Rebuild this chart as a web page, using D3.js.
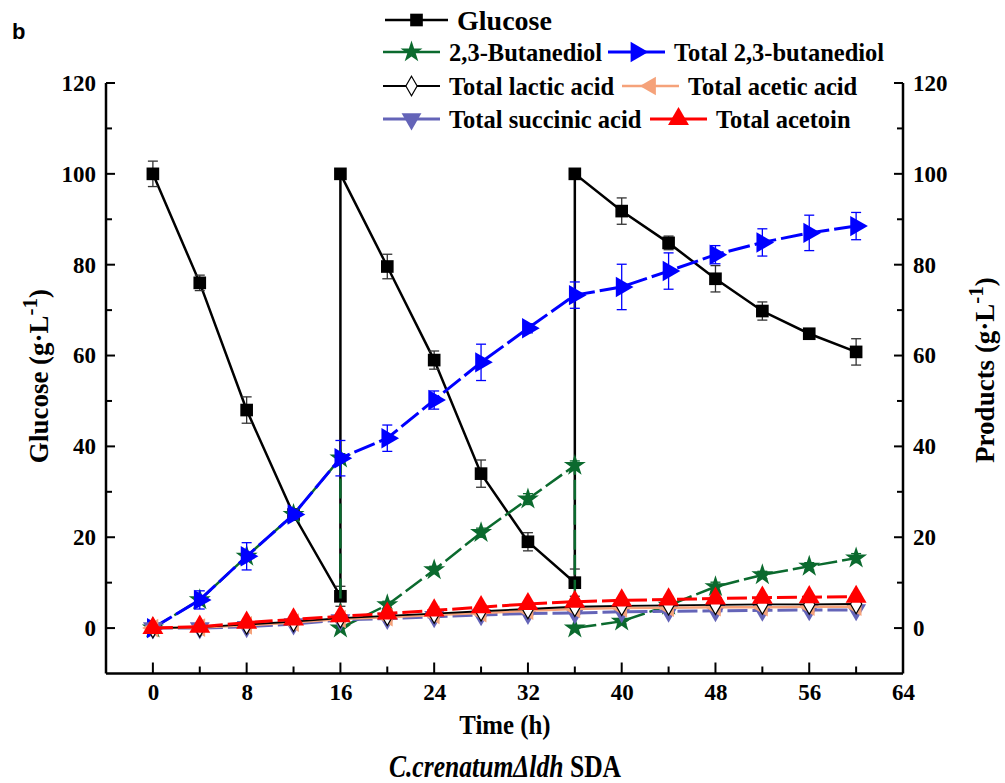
<!DOCTYPE html>
<html>
<head>
<meta charset="utf-8">
<script src="https://cdn.jsdelivr.net/npm/d3@7"></script>
<style>
  body { margin: 0; background: #fff; }
  svg { display: block; }
  text { font-family: 'Liberation Serif', 'Times New Roman', serif; font-weight: bold; }
</style>
</head>
<body>
<svg width="1005" height="783"></svg>
<script>
// time points (h)
const hours = [0, 4, 8, 12, 16, 20, 24, 28, 32, 36, 40, 44, 48, 52, 56, 60];

// glucose, fed three times (repeated time = feeding jump)
const glucoseTime = [0, 4, 8, 12, 16, 16, 20, 24, 28, 32, 36, 36, 40, 44, 48, 52, 56, 60];
const glucose = [100, 76, 48, 25, 7, 100, 79.6, 59, 34, 19, 10, 100, 91.8, 84.8, 76.9, 69.8, 64.8, 60.8];
const glucoseErr = [2.8, 1.7, 2.9, 0.8, 2.2, 0, 2.7, 2, 3, 2, 3, 0, 2.9, 1.5, 2.9, 2, 0.8, 2.9];

// 2,3-butanediol in broth (reset at each feeding)
const bdTime = [0, 4, 8, 12, 16, 16, 20, 24, 28, 32, 36, 36, 40, 44, 48, 52, 56, 60];
const bd = [0, 6.2, 15.8, 25, 37.4, 0, 5.1, 12.8, 21, 28.4, 35.8, 0, 1.5, 5, 9.1, 11.7, 13.6, 15.4];
const bdErr = [0, 0.5, 0.8, 0.5, 1, 0, 0.8, 0.8, 1, 1.2, 1, 0, 0.6, 0.6, 1, 0.8, 0.8, 1];

const totalBd = [0, 6.2, 15.8, 25, 37.4, 41.8, 50.2, 58.5, 66, 73.3, 75.1, 78.6, 82.2, 84.9, 87, 88.5];
const totalBdErr = [0, 2, 3, 1, 3.9, 2.9, 2, 4, 1, 2.9, 5, 4, 2, 3, 3.9, 3];

const lactic = [0, 0.2, 0.8, 1.4, 2.2, 2.7, 3.2, 3.7, 4.2, 4.7, 4.9, 5.0, 5.1, 5.2, 5.2, 5.3];
const acetic = [0, 0.1, 0.6, 1.2, 2.0, 2.4, 2.9, 3.3, 3.8, 4.2, 4.4, 4.5, 4.6, 4.6, 4.7, 4.7];
const succinic = [0, 0, 0.3, 0.9, 1.8, 2.1, 2.5, 2.9, 3.2, 3.3, 3.6, 3.7, 3.8, 3.9, 4.0, 4.0];
const acetoin = [0, 0.3, 1.2, 1.9, 2.6, 3.2, 3.9, 4.6, 5.3, 5.8, 6.1, 6.3, 6.5, 6.7, 6.8, 6.9];
const acetoinErr = [0, 0.3, 0.4, 0.4, 0.5, 0.4, 0.4, 0.5, 0.5, 0.6, 0.5, 0.5, 0.6, 0.5, 0.5, 0.6];

const xTicks = [0, 8, 16, 24, 32, 40, 48, 56, 64];
const yTicks = [0, 20, 40, 60, 80, 100, 120];

const svg = d3.select('svg');

const x = d3.scaleLinear().domain([-4, 64]).range([106, 903]);
const y = d3.scaleLinear().domain([-10, 120]).range([673.5, 83]);

const line = d3.line().x(d => x(d[0])).y(d => y(d[1]));

// series definitions
const series = [
  { name: 'glucose', t: glucoseTime, v: glucose, e: glucoseErr, color: '#000', width: 2.5, dash: null,
    symbol: d3.symbolSquare, size: 160, rot: 0, fill: '#000' },
  { name: 'bd', t: bdTime, v: bd, e: bdErr, color: '#0b6a2e', width: 2.5, dash: '20,5',
    symbol: d3.symbolStar, size: 150, rot: 0, fill: '#0b6a2e' },
  { name: 'totalBd', t: hours, v: totalBd, e: totalBdErr, color: '#0000ff', width: 3, dash: '22,5',
    symbol: d3.symbolTriangle, size: 180, rot: 90, fill: '#0000ff' },
  { name: 'succinic', t: hours, v: succinic, e: null, color: '#6464b8', width: 3, dash: '20,5',
    symbol: d3.symbolTriangle, size: 170, rot: 180, fill: '#6464b8' },
  { name: 'acetic', t: hours, v: acetic, e: null, color: '#f5a27a', width: 2.5, dash: null,
    symbol: d3.symbolTriangle, size: 150, rot: -90, fill: '#f5a27a' },
  { name: 'lactic', t: hours, v: lactic, e: null, color: '#000', width: 1.8, dash: null,
    symbol: d3.symbolDiamond, size: 110, rot: 0, fill: '#fff' },
  { name: 'acetoin', t: hours, v: acetoin, e: acetoinErr, color: '#ff0000', width: 3, dash: '20,5',
    symbol: d3.symbolTriangle, size: 190, rot: 0, fill: '#ff0000' }
];

const plot = svg.append('g').attr('class', 'plot');

series.forEach(s => {
  const pts = s.t.map((t, i) => [t, s.v[i], s.e ? s.e[i] : 0]);
  const g = plot.append('g').attr('class', s.name);

  g.append('path')
    .datum(pts)
    .attr('d', line)
    .attr('fill', 'none')
    .attr('stroke', s.color)
    .attr('stroke-width', s.width)
    .attr('stroke-dasharray', s.dash);

  if (s.e) {
    const eb = g.selectAll('.err')
      .data(pts.filter(d => d[2] > 0))
      .enter()
      .append('g')
      .attr('class', 'err')
      .attr('stroke', s.name === 'glucose' ? '#333' : s.color)
      .attr('stroke-width', 1.3);
    eb.append('line')
      .attr('x1', d => x(d[0])).attr('x2', d => x(d[0]))
      .attr('y1', d => y(d[1] - d[2])).attr('y2', d => y(d[1] + d[2]));
    eb.append('line')
      .attr('x1', d => x(d[0]) - 5).attr('x2', d => x(d[0]) + 5)
      .attr('y1', d => y(d[1] + d[2])).attr('y2', d => y(d[1] + d[2]));
    eb.append('line')
      .attr('x1', d => x(d[0]) - 5).attr('x2', d => x(d[0]) + 5)
      .attr('y1', d => y(d[1] - d[2])).attr('y2', d => y(d[1] - d[2]));
  }

  g.selectAll('.mark')
    .data(pts)
    .enter()
    .append('path')
    .attr('class', 'mark')
    .attr('d', d3.symbol().type(s.symbol).size(s.size))
    .attr('transform', d => `translate(${x(d[0])},${y(d[1])}) rotate(${s.rot})`)
    .attr('fill', s.fill)
    .attr('stroke', s.name === 'lactic' ? '#000' : 'none')
    .attr('stroke-width', 1.2);
});

// axes
const axisW = 2.5;
svg.append('g')
  .attr('transform', `translate(0,${y(-10)})`)
  .call(d3.axisBottom(x).tickValues(xTicks).tickSize(0).tickPadding(10).tickFormat(d3.format('d')))
  .call(g => g.select('.domain').remove())
  .call(g => g.selectAll('text').attr('font-size', 23).attr('fill', '#000'));

svg.append('line')
  .attr('x1', x(-4)).attr('x2', x(64))
  .attr('y1', y(-10)).attr('y2', y(-10))
  .attr('stroke', '#000').attr('stroke-width', axisW);

// x ticks inward
svg.append('g').selectAll('line')
  .data(d3.range(0, 64, 4))
  .enter()
  .append('line')
  .attr('x1', d => x(d)).attr('x2', d => x(d))
  .attr('y1', y(-10)).attr('y2', d => y(-10) - (d % 8 === 0 ? 11 : 7))
  .attr('stroke', '#000').attr('stroke-width', 2);

// left axis
const left = svg.append('g').attr('transform', `translate(${x(-4)},0)`);
left.call(d3.axisLeft(y).tickValues(yTicks).tickSize(0).tickPadding(10))
  .call(g => g.select('.domain').remove())
  .call(g => g.selectAll('text').attr('font-size', 23).attr('fill', '#000'));
left.append('line').attr('y1', y(-10)).attr('y2', y(120))
  .attr('stroke', '#000').attr('stroke-width', axisW);
left.selectAll('.tk')
  .data(d3.range(0, 121, 10))
  .enter()
  .append('line')
  .attr('class', 'tk')
  .attr('x1', 0).attr('x2', d => (d % 20 === 0 ? 9 : 6))
  .attr('y1', d => y(d)).attr('y2', d => y(d))
  .attr('stroke', '#000').attr('stroke-width', 2);

// right axis
const right = svg.append('g').attr('transform', `translate(${x(64)},0)`);
right.call(d3.axisRight(y).tickValues(yTicks).tickSize(0).tickPadding(10))
  .call(g => g.select('.domain').remove())
  .call(g => g.selectAll('text').attr('font-size', 23).attr('fill', '#000'));
right.append('line').attr('y1', y(-10)).attr('y2', y(120))
  .attr('stroke', '#000').attr('stroke-width', axisW);
right.selectAll('.tk')
  .data(d3.range(0, 121, 10))
  .enter()
  .append('line')
  .attr('class', 'tk')
  .attr('x1', 0).attr('x2', d => (d % 20 === 0 ? -9 : -6))
  .attr('y1', d => y(d)).attr('y2', d => y(d))
  .attr('stroke', '#000').attr('stroke-width', 2);

// axis titles
svg.append('text')
  .attr('transform', 'translate(505,734) scale(0.92,1)')
  .attr('text-anchor', 'middle')
  .attr('font-size', 27)
  .text('Time (h)');

const yLab = (txt, cx, cy) => {
  const t = svg.append('text')
    .attr('transform', `translate(${cx},${cy}) rotate(-90)`)
    .attr('text-anchor', 'middle')
    .attr('font-size', 27);
  t.append('tspan').text(txt + ' (g\u00b7L');
  t.append('tspan').attr('dy', -11).attr('font-size', 21).text('-1');
  t.append('tspan').attr('dy', 11).text(')');
};
yLab('Glucose', 48, 376);
yLab('Products', 994, 370);

// panel letter + caption
svg.append('text')
  .attr('x', 12).attr('y', 39)
  .style('font-family', "'Liberation Sans', Arial, sans-serif")
  .attr('font-size', 22)
  .text('b');

const cap = svg.append('text')
  .attr('transform', 'translate(505,777) scale(0.8,1)')
  .attr('text-anchor', 'middle')
  .attr('font-size', 32);
cap.append('tspan').attr('font-style', 'italic').text('C.crenatum\u0394ldh');
cap.append('tspan').text(' SDA');

// legend
const legendItems = [
  { s: 0, label: 'Glucose', lx: 385, ly: 20, fs: 28 },
  { s: 1, label: '2,3-Butanediol', lx: 383, ly: 52, fs: 24.5 },
  { s: 2, label: 'Total 2,3-butanediol', lx: 608, ly: 52, fs: 24.5 },
  { s: 5, label: 'Total lactic acid', lx: 383, ly: 86, fs: 24.5 },
  { s: 4, label: 'Total acetic acid', lx: 622, ly: 86, fs: 24.5 },
  { s: 3, label: 'Total succinic acid', lx: 383, ly: 119, fs: 24.5 },
  { s: 6, label: 'Total acetoin', lx: 650, ly: 119, fs: 24.5 }
];

const legend = svg.append('g').attr('class', 'legend');
legendItems.forEach(it => {
  const s = series[it.s];
  const w = it.s === 0 ? 63 : 57;
  const g = legend.append('g').attr('transform', `translate(${it.lx},${it.ly})`);
  g.append('line').attr('x1', 0).attr('x2', w)
    .attr('stroke', s.color).attr('stroke-width', s.width);
  g.append('path')
    .attr('d', d3.symbol().type(s.symbol).size(s.size)())
    .attr('transform', `translate(${w / 2},0) rotate(${s.rot})`)
    .attr('fill', s.fill)
    .attr('stroke', s.name === 'lactic' ? '#000' : 'none')
    .attr('stroke-width', 1.2);
  g.append('text')
    .attr('x', w + 9).attr('y', 0).attr('dy', '0.35em')
    .attr('font-size', it.fs)
    .text(it.label);
});
</script>
</body>
</html>
